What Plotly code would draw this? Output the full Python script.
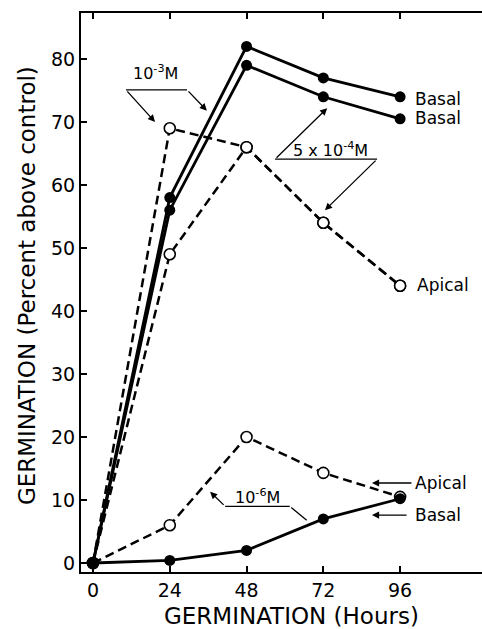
import plotly.graph_objects as go

hours = [0, 24, 48, 72, 96]
basal_1e3 = [0, 58, 82, 77, 74]
basal_5e4 = [0, 56, 79, 74, 70.5]
apical_1e3 = [0, 69, 66, 54, 44]
apical_5e4 = [0, 49, 66, 54, 44]
apical_1e6 = [0, 6, 20, 14.3, 10.5]
basal_1e6 = [0, 0.4, 2, 7, 10.2]

x_ticks = [0, 24, 48, 72, 96]
y_ticks = [0, 10, 20, 30, 40, 50, 60, 70, 80]

FONT = "DejaVu Sans"
fig = go.Figure()

def solid(y):
    fig.add_trace(go.Scatter(x=hours, y=y, mode="lines+markers",
                             line=dict(color="black", width=2.8),
                             marker=dict(symbol="circle", size=11, color="black"),
                             showlegend=False, cliponaxis=False, hoverinfo="skip"))

def dashed(y):
    fig.add_trace(go.Scatter(x=hours, y=y, mode="lines+markers",
                             line=dict(color="black", width=2.5, dash="9px,5px"),
                             marker=dict(symbol="circle", size=11, color="white",
                                         line=dict(color="black", width=1.6)),
                             showlegend=False, cliponaxis=False, hoverinfo="skip"))

dashed(apical_1e3)
dashed(apical_5e4)
dashed(apical_1e6)
solid(basal_1e3)
solid(basal_5e4)
solid(basal_1e6)

anns = []
shapes = []

def label(x, y, text, size=16, xanchor="center"):
    anns.append(dict(x=x, y=y, xref="x", yref="y", text=text, showarrow=False,
                     xanchor=xanchor, yanchor="middle",
                     font=dict(family=FONT, size=size, color="black")))

def arrow(x0, y0, x1, y1, head=True):
    anns.append(dict(x=x1, y=y1, ax=x0, ay=y0, xref="x", yref="y", axref="x", ayref="y",
                     text="", showarrow=True, arrowhead=2 if head else 0,
                     arrowsize=1.1, arrowwidth=1.3, arrowcolor="black"))

def hline(x0, x1, y):
    shapes.append(dict(type="line", x0=x0, x1=x1, y0=y, y1=y, xref="x", yref="y",
                       line=dict(color="black", width=1.3)))

# 10^-3 M bracket
label(19.6, 77.9, "10<sup>-3</sup>M")
hline(10.3, 29.4, 75.1)
arrow(10.3, 75.1, 19.4, 70.0)
arrow(29.4, 75.1, 35.6, 71.8)

# 5 x 10^-4 M bracket
label(74.2, 65.6, "5 x 10<sup>-4</sup>M")
hline(56.9, 88.8, 64.1)
arrow(56.9, 64.1, 73.2, 72.2)
arrow(88.8, 64.1, 72.5, 56.0)

# 10^-6 M bracket
label(51.5, 10.6, "10<sup>-6</sup>M")
hline(41.3, 61.5, 9.0)
arrow(41.3, 9.0, 36.6, 11.3)
arrow(61.5, 9.0, 66.8, 6.8, head=False)

# right-side labels
label(100.1, 73.6, "Basal", 17, "left")
label(100.1, 70.6, "Basal", 17, "left")
label(100.6, 44.2, "Apical", 17, "left")
label(100.1, 12.7, "Apical", 17, "left")
label(100.1, 7.6, "Basal", 17, "left")
arrow(100.0, 12.7, 87.2, 12.7)
arrow(98.5, 7.6, 87.2, 7.6)

# axis titles
anns.append(dict(x=0.524, y=-0.079, xref="paper", yref="paper", showarrow=False,
                 text="GERMINATION (Hours)", xanchor="center", yanchor="middle",
                 font=dict(family=FONT, size=23, color="black")))
anns.append(dict(x=-0.135, y=0.513, xref="paper", yref="paper", showarrow=False,
                 text="GERMINATION (Percent above control)", textangle=-90,
                 xanchor="center", yanchor="middle",
                 font=dict(family=FONT, size=23, color="black")))

fig.update_layout(
    width=482, height=629,
    margin=dict(l=81, r=0, t=13, b=57),
    paper_bgcolor="white", plot_bgcolor="white",
    hovermode=False,
    annotations=anns, shapes=shapes,
    xaxis=dict(range=[-3.75, 121.6], tickvals=x_ticks, ticktext=[str(v) for v in x_ticks],
               showgrid=False, zeroline=False, showline=True, linecolor="black", linewidth=2,
               mirror="allticks", ticks="inside", ticklen=6, tickwidth=1.5, tickcolor="black",
               tickfont=dict(family=FONT, size=19, color="black")),
    yaxis=dict(range=[-1.43, 87.3], tickvals=y_ticks, ticktext=[str(v) for v in y_ticks],
               showgrid=False, zeroline=False, showline=True, linecolor="black", linewidth=2,
               ticks="inside", ticklen=6, tickwidth=1.5, tickcolor="black",
               tickfont=dict(family=FONT, size=19, color="black")),
)

fig.write_html("out.html", config={"displayModeBar": False},
               post_script="document.body.style.margin='0';document.body.style.overflow='hidden';")
